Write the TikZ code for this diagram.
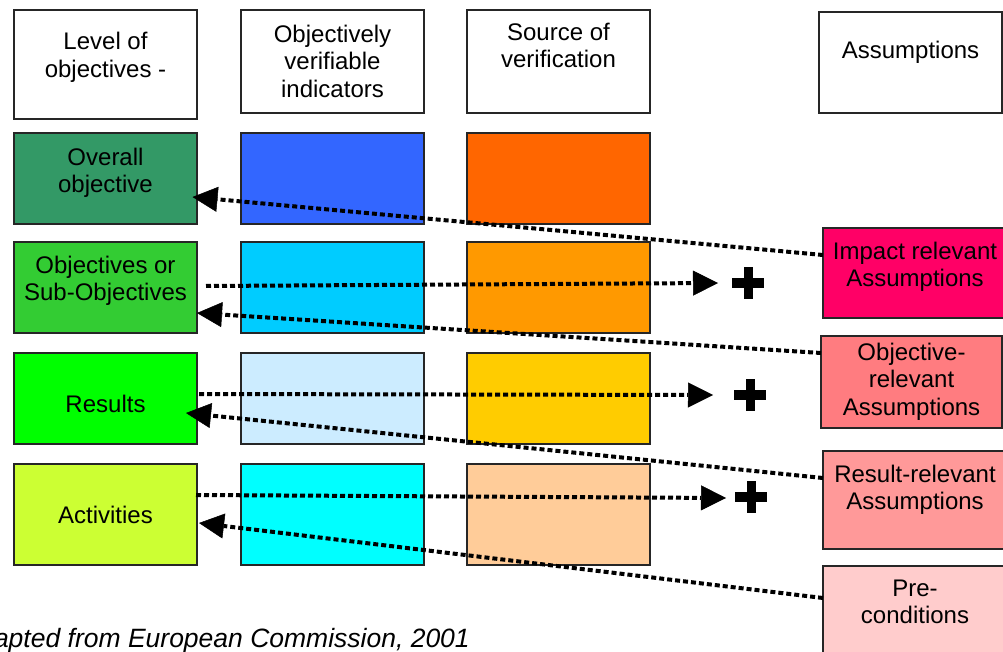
\documentclass[tikz,border=0pt]{standalone}
\usepackage{fontspec}
\setmainfont{Liberation Sans}
\usetikzlibrary{arrows.meta,calc}

% fill colours of the matrix cells
\definecolor{cOverall}{HTML}{339966}
\definecolor{cBlue}{HTML}{3366FF}
\definecolor{cOrange}{HTML}{FF6600}
\definecolor{cObj}{HTML}{33CC33}
\definecolor{cSky}{HTML}{00CCFF}
\definecolor{cAmber}{HTML}{FF9900}
\definecolor{cRes}{HTML}{00FF00}
\definecolor{cPale}{HTML}{CCECFF}
\definecolor{cGold}{HTML}{FFCC00}
\definecolor{cAct}{HTML}{CCFF33}
\definecolor{cCyan}{HTML}{00FFFF}
\definecolor{cPeach}{HTML}{FFCC99}
\definecolor{cImpact}{HTML}{FF0066}
\definecolor{cObjRel}{HTML}{FF7C80}
\definecolor{cResRel}{HTML}{FF9999}
\definecolor{cPre}{HTML}{FFCCCC}

\begin{document}
\begin{tikzpicture}[x=1pt,y=-1pt,
  cell/.style={draw=black!85, line width=1.3pt, minimum width=183pt,
    minimum height=91pt, inner sep=0pt, outer sep=0pt},
  lbl/.style={font=\fontsize{24}{27.5}\selectfont, align=center,
    inner sep=0pt, text=black},
  link/.style={line width=4pt, dash pattern=on 5pt off 3pt,
    -{Triangle[length=25pt,width=25pt,line width=0.5pt]}},
  plussign/.style={minimum size=32pt, inner sep=0pt, outer sep=0pt}
]
\useasboundingbox (0,0) rectangle (1003,652);
\clip (0,0) rectangle (1003,652);

% column headers
\node[cell, minimum height=109pt, fill=white,
  label={[lbl,yshift=7pt]center:{Level of\\objectives -}}] (h1) at (105.5,64.5) {};
\node[cell, minimum height=103pt, fill=white,
  label={[lbl,yshift=0.5pt]center:{Objectively\\verifiable\\indicators}}] (h2) at (332.5,61.5) {};
\node[cell, minimum height=103pt, fill=white,
  label={[lbl,yshift=16pt]center:{Source of\\verification}}] (h3) at (558.5,61.5) {};
\node[cell, minimum height=101pt, fill=white,
  label={[lbl,yshift=10pt]center:{Assumptions}}] (h4) at (910.5,62.5) {};

% row 1
\node[cell, fill=cOverall,
  label={[lbl,yshift=5.5pt]center:{Overall\\objective}}] (overall) at (105.5,178.5) {};
\node[cell, fill=cBlue] (ind1) at (332.5,178.5) {};
\node[cell, fill=cOrange] (src1) at (558.5,178.5) {};

% row 2
\node[cell, fill=cObj,
  label={[lbl,yshift=6.5pt]center:{Objectives or\\Sub-Objectives}}] (objectives) at (105.5,287.5) {};
\node[cell, fill=cSky] (ind2) at (332.5,287.5) {};
\node[cell, fill=cAmber] (src2) at (558.5,287.5) {};

% row 3
\node[cell, fill=cRes,
  label={[lbl,yshift=-5.5pt]center:{Results}}] (results) at (105.5,398.5) {};
\node[cell, fill=cPale] (ind3) at (332.5,398.5) {};
\node[cell, fill=cGold] (src3) at (558.5,398.5) {};

% row 4
\node[cell, minimum height=101pt, fill=cAct,
  label={[lbl]center:{Activities}}] (activities) at (105.5,514.5) {};
\node[cell, minimum height=101pt, fill=cCyan] (ind4) at (332.5,514.5) {};
\node[cell, minimum height=101pt, fill=cPeach] (src4) at (558.5,514.5) {};

% assumption boxes
\node[cell, minimum width=184pt, minimum height=90pt, fill=cImpact,
  label={[lbl,yshift=6pt]center:{Impact relevant\\Assumptions}}] (impact) at (915,273) {};
\node[cell, minimum width=181pt, minimum height=92pt, fill=cObjRel,
  label={[lbl,yshift=0.5pt]center:{Objective-\\relevant\\Assumptions}}] (objrel) at (911.5,382) {};
\node[cell, minimum width=184pt, minimum height=98pt, fill=cResRel,
  label={[lbl,yshift=10pt]center:{Result-relevant\\Assumptions}}] (resrel) at (915,500) {};
\node[cell, minimum width=184pt, minimum height=94pt, fill=cPre,
  label={[lbl,yshift=11pt]center:{Pre-\\conditions}}] (pre) at (915,613) {};

% plus signs
\node[plussign] (plus2) at (748,283) {};
\node[plussign] (plus3) at (750,395) {};
\node[plussign] (plus4) at (751,497) {};
\foreach \p in {plus2,plus3,plus4} {
  \fill[black] ($(\p.center)+(-16pt,-5pt)$) rectangle ++(32pt,10pt);
  \fill[black] ($(\p.center)+(-4.5pt,-16pt)$) rectangle ++(9pt,32pt);
}

% assumptions feeding back to the objective levels
\draw[link] ($(impact.west)+(0,-18)$) -- ($(overall.east)+(-4.5,18.5)$);
\draw[link] ($(objrel.west)+(0,-29)$) -- ($(objectives.east)+(0,25.5)$);
\draw[link] ($(resrel.west)+(0,-22)$) -- ($(results.east)+(-11,14.5)$);
\draw[link] ($(pre.west)+(0,-15)$) -- ($(activities.east)+(2,8.5)$);

% objective levels leading on to the assumptions
\draw[link] ($(objectives.east)+(9,-1.5)$) -- ($(plus2.west)+(-14,0)$);
\draw[link] ($(results.east)+(2,-4.5)$) -- ($(plus3.west)+(-21,0)$);
\draw[link] ($(activities.east)+(-1,-19.5)$) -- ($(plus4.west)+(-9,1)$);

% source note
\node[anchor=base east, inner sep=0pt, font=\fontsize{26.5}{30}\selectfont\itshape]
  (caption) at (470,647) {Adapted from European Commission, 2001};
\end{tikzpicture}
\end{document}
